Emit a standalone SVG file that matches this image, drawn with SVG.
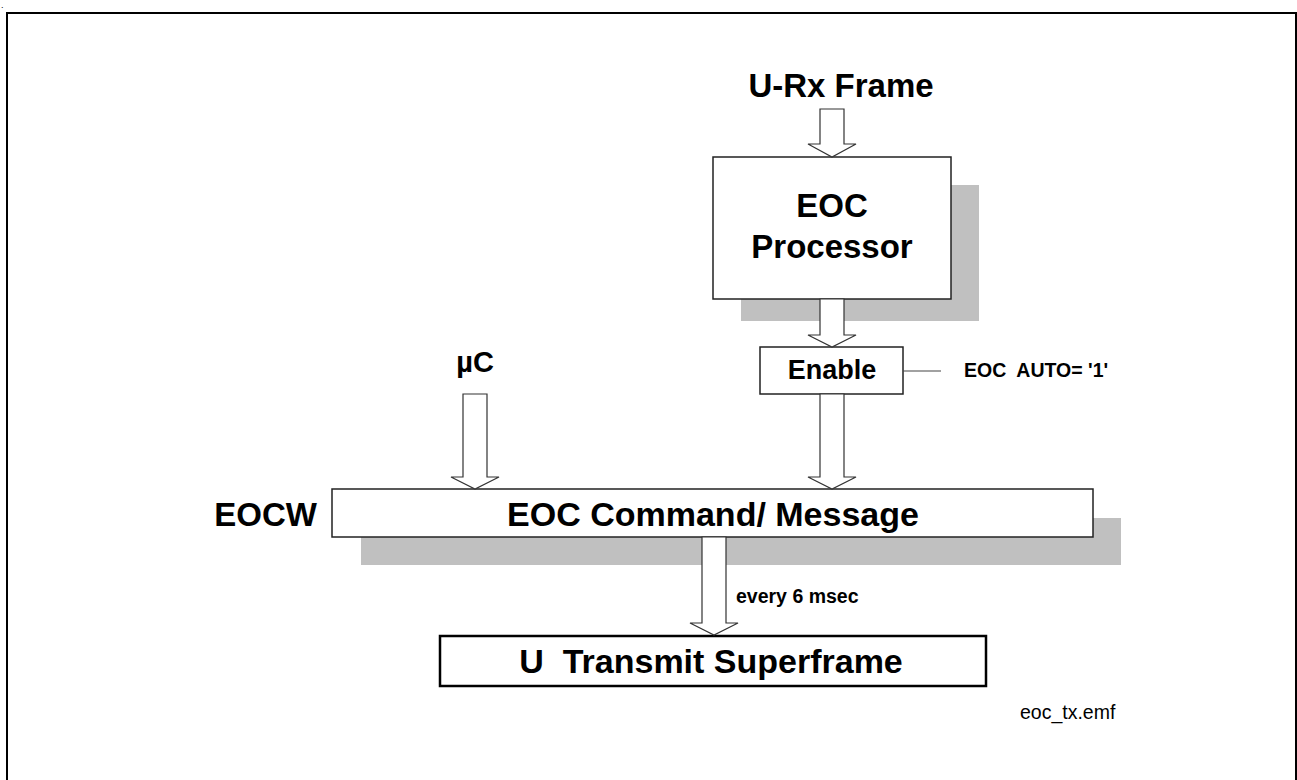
<svg xmlns="http://www.w3.org/2000/svg" width="1297" height="780" viewBox="0 0 1297 780">
<style>
text{font-family:"Liberation Sans",Arial,sans-serif;fill:#000}
.b{font-weight:bold}
.box{fill:#fff;stroke:#222;stroke-width:1.5}
.shadow{fill:#c0c0c0;stroke:none}
.arrow{fill:#fff;stroke:#333;stroke-width:1.2;stroke-linejoin:miter}
.line{stroke:#444;stroke-width:1.2;fill:none}
</style>
<rect x="0" y="0" width="1297" height="780" fill="#fff"/>
<text x="1" y="8" font-size="9">.</text>
<rect x="7" y="13" width="1289" height="800" fill="none" stroke="#000" stroke-width="2"/>

<g id="urx-label"><text class="b" x="841" y="97" font-size="33" text-anchor="middle">U-Rx Frame</text></g>

<g id="eoc-processor">
<rect class="shadow" x="741" y="185" width="238" height="136"/>
<rect class="box" x="713" y="157" width="238" height="142"/>
<text class="b" x="832" y="217" font-size="33" text-anchor="middle">EOC</text>
<text class="b" x="832" y="258" font-size="33" text-anchor="middle">Processor</text>
</g>

<g id="enable">
<rect class="box" x="760" y="347" width="143" height="47"/>
<text class="b" x="832" y="379" font-size="27" text-anchor="middle">Enable</text>
</g>

<g id="eoc-auto"><text class="b" x="964" y="377" font-size="19.5" xml:space="preserve">EOC  AUTO= '1'</text></g>

<g id="uc-label"><text class="b" x="475" y="372" font-size="29" text-anchor="middle">µC</text></g>

<g id="eocw-label"><text class="b" x="317" y="526" font-size="33" text-anchor="end">EOCW</text></g>

<g id="eoc-command">
<rect class="shadow" x="361" y="518" width="760" height="47"/>
<rect class="box" x="332" y="489" width="761" height="48"/>
<text class="b" x="713" y="526" font-size="34" text-anchor="middle">EOC Command/ Message</text>
</g>

<g id="u-transmit">
<rect x="440" y="636" width="546" height="50" fill="#fff" stroke="#000" stroke-width="2.5"/>
<text class="b" x="711" y="673" font-size="34" text-anchor="middle" xml:space="preserve">U  Transmit Superframe</text>
</g>

<g id="every-label"><text class="b" x="736" y="603" font-size="19.5">every 6 msec</text></g>

<g id="file-label"><text x="1020" y="719" font-size="19.5">eoc_tx.emf</text></g>

<g id="connectors">
<polygon class="arrow" points="820,109 844,109 844,144 856,144 832,157 808,144 820,144"/>
<polygon class="arrow" points="820,299 844,299 844,335 856,335 832,347 808,335 820,335"/>
<polygon class="arrow" points="820,394 844,394 844,477 856,477 832,489 808,477 820,477"/>
<polygon class="arrow" points="463,394 487,394 487,477 499,477 475,489 451,477 463,477"/>
<polygon class="arrow" points="702,537 726,537 726,623 738,623 714,635 690,623 702,623"/>
<line class="line" x1="903" y1="371" x2="941" y2="371"/>
</g>
</svg>
